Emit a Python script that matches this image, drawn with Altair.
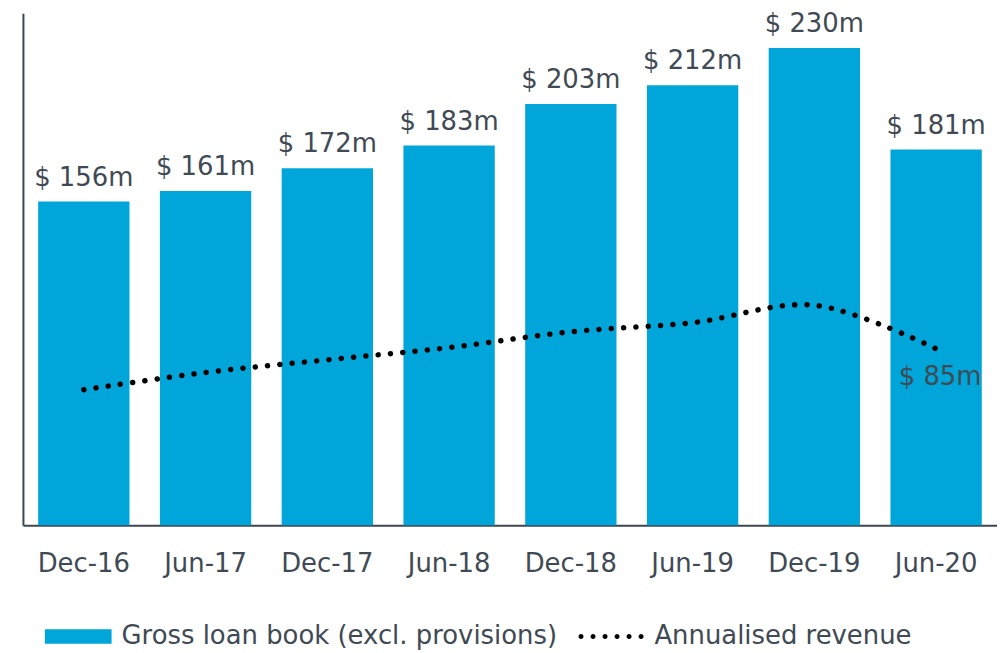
import altair as alt
import pandas as pd

periods = ["Dec-16", "Jun-17", "Dec-17", "Jun-18", "Dec-18", "Jun-19", "Dec-19", "Jun-20"]
loan_book = [156, 161, 172, 183, 203, 212, 230, 181]
loan_labels = ["$ 156m", "$ 161m", "$ 172m", "$ 183m", "$ 203m", "$ 212m", "$ 230m", "$ 181m"]
revenue = [65.3, 73.6, 79.7, 85.6, 93.2, 97.6, 106.0, 85.0]
revenue_labels = ["", "", "", "", "", "", "", "$ 85m"]
series_names = ["Gross loan book (excl. provisions)", "Annualised revenue"]

FONT = "DejaVu Sans"
TXT = "#3F4A54"
BLUE = "#00A6D9"

bars_df = pd.DataFrame({"period": periods, "value": loan_book, "label": loan_labels})
line_df = pd.DataFrame({"period": periods, "value": revenue, "label": revenue_labels})
# legend-only rows, placed below the visible domain and clipped away
legend_df = pd.DataFrame({"period": [periods[0], periods[0]], "value": [-100, -100],
                          "series": series_names})

rect_path = "M-1,-0.22H1V0.22H-1Z"
r = 0.075
centers = [-0.9, -0.54, -0.18, 0.18, 0.54, 0.9]
dots_path = "".join(
    f"M{c - r:.3f},0A{r},{r} 0 1 0 {c + r:.3f},0A{r},{r} 0 1 0 {c - r:.3f},0Z" for c in centers
)

x_enc = alt.X("period:N", sort=periods,
              scale=alt.Scale(paddingInner=0.25, paddingOuter=0.125),
              axis=alt.Axis(title=None, labelAngle=0, ticks=False, grid=False,
                            domainColor="#3D4650", domainWidth=2,
                            labelFont=FONT, labelFontSize=26, labelColor=TXT,
                            labelPadding=25))
y_enc = alt.Y("value:Q", scale=alt.Scale(domain=[0, 246.7], nice=False, zero=True),
              axis=alt.Axis(title=None, labels=False, ticks=False, grid=False,
                            domainColor="#3D4650", domainWidth=2))

bars = alt.Chart(bars_df).mark_bar(color=BLUE).encode(x=x_enc, y=y_enc)
bar_text = alt.Chart(bars_df).mark_text(
    baseline="bottom", dy=-11, font=FONT, fontSize=26, color=TXT
).encode(x=x_enc, y=y_enc, text="label:N")

line = alt.Chart(line_df).mark_line(
    color="#000000", strokeDash=[0.1, 12.3], strokeCap="round", strokeWidth=5.5,
    interpolate="catmull-rom"
).encode(x=x_enc, y=y_enc)
line_text = alt.Chart(line_df).transform_filter("datum.label != ''").mark_text(
    baseline="middle", dy=28, dx=4, font=FONT, fontSize=26, color=TXT
).encode(x=x_enc, y=y_enc, text="label:N")

legend_layer = alt.Chart(legend_df).mark_point(filled=True, opacity=1, clip=True).encode(
    x=x_enc, y=y_enc,
    color=alt.Color("series:N", scale=alt.Scale(domain=series_names, range=[BLUE, "#000000"]),
                    legend=alt.Legend(
                        title=None, orient="none", legendX=22, legendY=592,
                        direction="horizontal",
                        labelFont=FONT, labelFontSize=26, labelColor=TXT, labelLimit=600,
                        symbolSize=4489, labelOffset=10, columnPadding=20,
                        symbolStrokeWidth=0, symbolOpacity=1)),
    shape=alt.Shape("series:N", scale=alt.Scale(domain=series_names,
                                                range=[rect_path, dots_path])),
)

chart = alt.layer(bars, bar_text, line, line_text, legend_layer).properties(
    width=978, height=514,
    autosize=alt.AutoSizeParams(type="none"),
    padding={"left": 15, "top": 4, "right": 0, "bottom": 126},
).configure_view(stroke=None)

chart.save("out.html", embed_options={"renderer": "svg", "actions": False})
